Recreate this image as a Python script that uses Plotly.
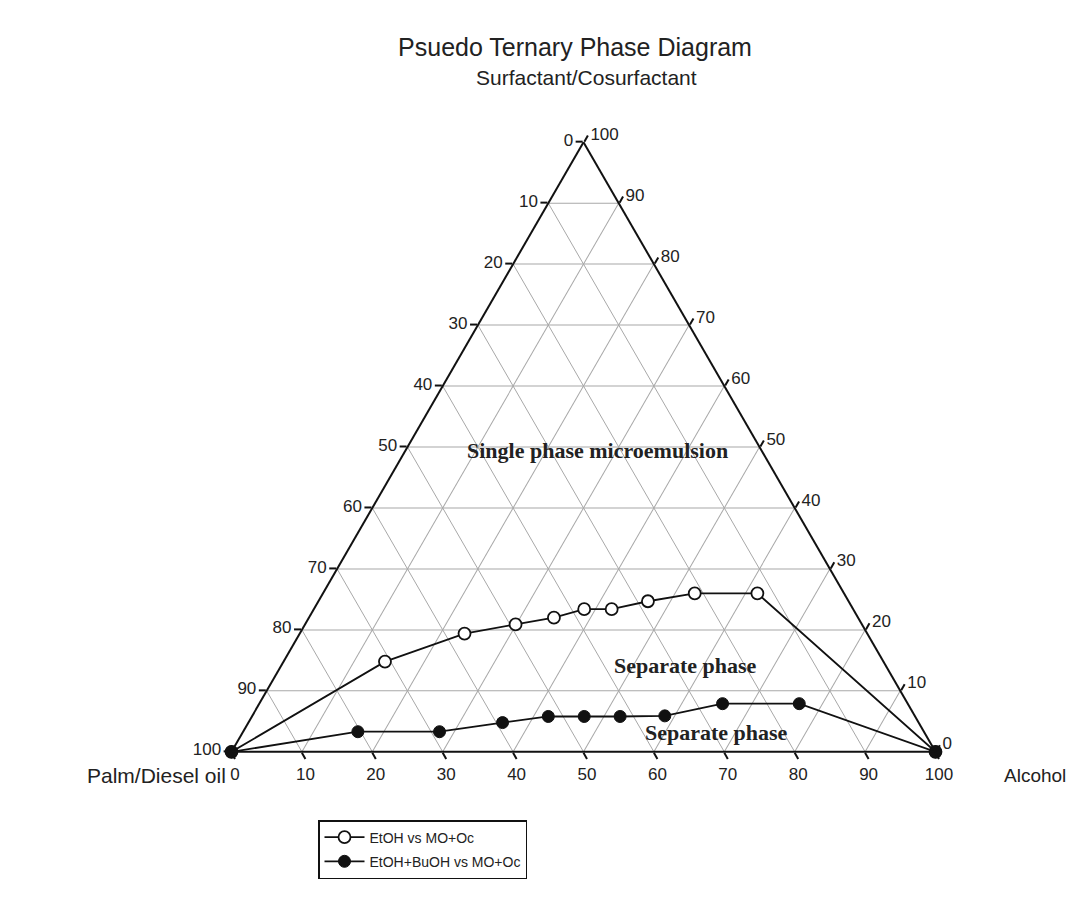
import plotly.graph_objects as go

# Composition data (percent): surfactant/cosurfactant, alcohol, oil
etoh_surf = [0, 14.8, 19.4, 20.9, 22.0, 23.4, 23.4, 24.7, 26.0, 26.0, 0]
etoh_alc = [0, 14.4, 23.4, 29.9, 34.8, 38.4, 42.3, 46.8, 52.8, 61.7, 100]
etoh_oil = [100, 70.8, 57.2, 49.2, 43.2, 38.2, 34.3, 28.5, 21.2, 12.3, 0]

bu_surf = [0, 3.3, 3.3, 4.8, 5.8, 5.8, 5.8, 5.9, 7.9, 7.9, 0]
bu_alc = [0, 16.3, 27.9, 36.1, 42.1, 47.2, 52.3, 58.6, 65.8, 76.7, 100]
bu_oil = [100, 80.4, 68.8, 59.1, 52.1, 47.0, 41.9, 35.5, 26.3, 15.4, 0]

tick_vals = [0, 10, 20, 30, 40, 50, 60, 70, 80, 90, 100]
tick_text = [str(100 - v) for v in tick_vals]

series_names = ["EtOH vs MO+Oc", "EtOH+BuOH vs MO+Oc"]

SANS = "Liberation Sans, Arial, sans-serif"
SERIF = "Liberation Serif, Times New Roman, serif"
W, H = 1077, 917

fig = go.Figure()
fig.add_trace(go.Scatterternary(
    a=etoh_surf, b=etoh_oil, c=etoh_alc, mode="lines+markers",
    name=series_names[0], legendgroup="g1",
    line=dict(color="#111111", width=1.8),
    marker=dict(symbol="circle", size=12, color="white",
                line=dict(color="#111111", width=1.8)),
    cliponaxis=False,
))
fig.add_trace(go.Scatterternary(
    a=bu_surf, b=bu_oil, c=bu_alc, mode="lines+markers",
    name=series_names[1], legendgroup="g2",
    line=dict(color="#111111", width=1.8),
    marker=dict(symbol="circle", size=12, color="#111111",
                line=dict(color="#111111", width=1)),
    cliponaxis=False,
))

axis_common = dict(
    min=0, tickmode="array", tickvals=tick_vals, ticktext=tick_text,
    showgrid=True, gridcolor="#a8a8a8", gridwidth=1,
    linecolor="#111111", linewidth=2, showline=True,
    ticks="outside", ticklen=7, tickcolor="#111111", tickwidth=1.5,
    tickfont=dict(family=SANS, size=17, color="#222222"),
    title=dict(text=""),
)

fig.update_layout(
    width=W, height=H,
    margin=dict(l=0, r=0, t=0, b=0),
    paper_bgcolor="white",
    font=dict(family=SANS, color="#222222"),
    title=dict(text="Psuedo Ternary Phase Diagram", x=567 / W, xanchor="center",
               y=1 - 39 / H, yanchor="middle",
               font=dict(size=25, family=SANS, color="#222222")),
    ternary=dict(
        sum=100,
        domain=dict(x=[223.5 / W, 927.5 / W], y=[173 / H, 783 / H]),
        bgcolor="white",
        aaxis=axis_common,
        baxis=axis_common,
        caxis=axis_common,
    ),
    legend=dict(
        x=310 / W, y=1 - 812 / H, xanchor="left", yanchor="top",
        bordercolor="#111111", borderwidth=1.5, bgcolor="white",
        font=dict(size=14, family=SANS, color="#222222"),
        itemwidth=40, tracegroupgap=3,
    ),
    showlegend=True,
)

annots = [
    dict(text="Surfactant/Cosurfactant", x=578, y=69, size=21, family=SANS, anchor="center"),
    dict(text="Palm/Diesel oil", x=148, y=767, size=21, family=SANS, anchor="center"),
    dict(text="Alcohol", x=1060, y=767, size=19, family=SANS, anchor="right"),
    dict(text="<b>Single phase microemulsion</b>", x=589, y=442, size=22, family=SERIF, anchor="center"),
    dict(text="<b>Separate phase</b>", x=677, y=657, size=22, family=SERIF, anchor="center"),
    dict(text="<b>Separate phase</b>", x=708, y=724, size=22, family=SERIF, anchor="center"),
]
for an in annots:
    fig.add_annotation(
        text=an["text"], x=an["x"] / W, y=1 - an["y"] / H, xref="paper", yref="paper",
        xanchor=an["anchor"], yanchor="middle", showarrow=False,
        font=dict(size=an["size"], family=an["family"], color="#222222"),
    )

fig.write_html("out.html")
